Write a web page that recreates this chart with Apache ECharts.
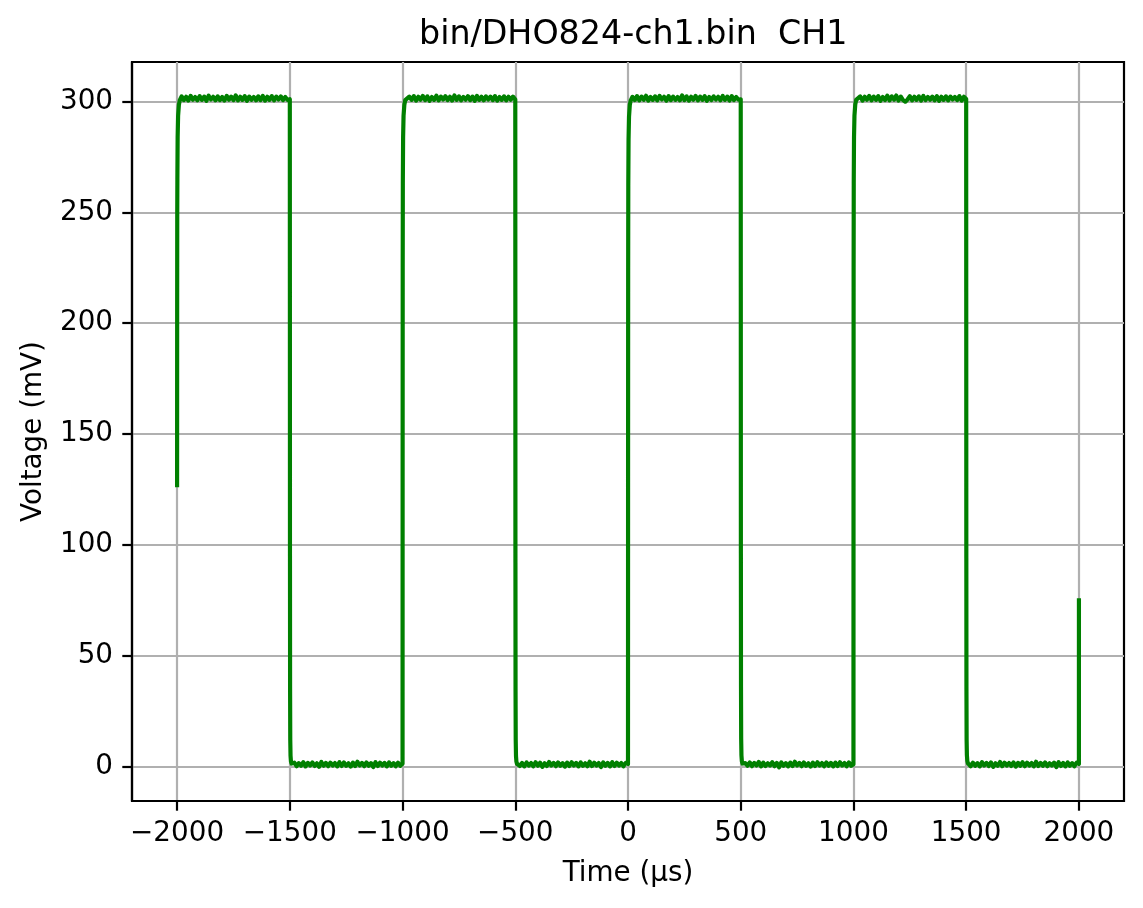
<!DOCTYPE html>
<html>
<head>
<meta charset="utf-8">
<script src="https://cdn.jsdelivr.net/npm/echarts@6/dist/echarts.min.js"></script>
<style>
  html, body { margin: 0; padding: 0; background: #fff; }
  #chart { width: 1143px; height: 908px; }
</style>
</head>
<body>
<div id="chart"></div>
<script>
// ---- Data (time in µs, voltage in mV) ----
const chartTitle = 'bin/DHO824-ch1.bin  CH1';
const xTicks = [-2000, -1500, -1000, -500, 0, 500, 1000, 1500, 2000];
const yTicks = [0, 50, 100, 150, 200, 250, 300];
const sampleStep = 10; // µs between plateau samples

// Edge samples [time, mV]
const edgeStart = [[-2000,127],[-1999.7,205],[-1999.3,250],[-1998.7,265],[-1997.5,284],[-1995.5,293.5],[-1992,298.5],[-1988,300.6],[-1984,301.4]];
const fall1 = [[-1504,301.6],[-1500,301.0],[-1499.7,215],[-1499.3,95],[-1498.8,35],[-1498,12],[-1496.8,5],[-1495,2.4],[-1492.5,1.4],[-1490,1.0]];
const rise1 = [[-1004,1.0],[-1000,1.3],[-999.7,130],[-999.3,225],[-998.7,263],[-997.5,284],[-995.5,293.5],[-992,298.5],[-988,300.6],[-984,301.4]];
const fall2 = [[-504,301.5],[-500,300.9],[-499.7,212],[-499.3,92],[-498.8,34],[-498,12],[-496.8,4.8],[-495,2.3],[-492.5,1.3],[-490,1.0]];
const rise2 = [[-4,0.9],[0,1.2],[0.3,128],[0.7,222],[1.3,262],[2.5,283],[4.5,293],[8,298.4],[12,300.5],[16,301.3]];
const fall3 = [[496,301.4],[500,301.0],[500.3,216],[500.7,96],[501.2,36],[502,12.5],[503.2,5.1],[505,2.5],[507.5,1.4],[510,1.1]];
const rise3 = [[996,0.8],[1000,1.1],[1000.3,131],[1000.7,224],[1001.3,263],[1002.5,284],[1004.5,293.6],[1008,298.6],[1012,300.7],[1016,301.4]];
const fall4 = [[1496,301.6],[1500,301.1],[1500.3,214],[1500.7,94],[1501.2,35],[1502,12],[1503.2,5.2],[1505,2.6],[1507.5,1.5],[1510,1.1]];
const edgeEnd = [[1996,0.9],[2000,1.2],[2000.1,75]];

// Plateau samples (mV), first sample time given by *Start
const high1Start = -1980;
const high1 = [302.3,300.6,302.1,300.4,302.5,300.8,302.0,300.5,
               302.4,300.7,302.2,300.3,302.6,300.9,302.1,300.5,
               302.3,300.6,302.0,300.4,302.5,300.8,302.2,300.6,
               302.7,300.5,302.1,300.7,302.4,300.3,302.2,300.8,
               302.0,300.5,302.3,300.6,302.5,300.4,302.1,300.7,
               302.4,300.5,302.2,300.9,302.3,300.6,302.0,300.7];
const low1Start = -1480;
const low1 = [1.8,0.2,1.6,0.4,2.0,0.1,1.7,0.5,
              1.9,0.3,1.5,-0.1,2.1,0.4,1.7,0.2,
              1.8,0.5,1.6,0.1,2.0,0.3,1.9,0.4,
              1.5,0.0,1.8,0.3,2.2,0.5,1.7,0.2,
              1.9,0.4,1.6,-0.2,2.0,0.3,1.8,0.5,
              1.7,0.1,1.9,0.4,1.6,0.2,1.8,0.4];
const high2Start = -980;
const high2 = [300.5,302.2,300.7,302.4,300.4,302.1,300.8,302.5,
               300.6,302.3,300.3,302.0,300.7,302.6,300.5,302.2,
               300.9,302.4,300.6,302.1,300.4,302.7,300.7,302.3,
               300.5,302.0,300.8,302.4,300.6,302.2,300.3,302.5,
               300.7,302.1,300.5,302.3,300.9,302.2,300.6,302.4,
               300.4,302.0,300.7,302.3,300.5,302.1,300.8,302.2];
const low2Start = -480;
const low2 = [0.3,1.7,0.1,1.9,0.5,1.6,0.2,2.0,
              0.4,1.8,-0.1,1.5,0.3,2.1,0.5,1.7,
              0.2,1.9,0.4,1.6,0.0,1.8,0.3,2.0,
              0.5,1.7,0.1,1.9,0.4,1.5,0.2,2.2,
              0.3,1.8,0.5,1.6,-0.2,1.9,0.4,1.7,
              0.1,2.0,0.3,1.8,0.5,1.6,0.2,1.7];
const high3Start = 20;
const high3 = [302.1,300.6,302.4,300.5,302.2,300.8,302.6,300.4,
               302.0,300.7,302.3,300.5,302.5,300.9,302.1,300.3,
               302.4,300.6,302.2,300.7,302.0,300.5,302.7,300.6,
               302.3,300.4,302.1,300.8,302.5,300.5,302.2,300.7,
               302.4,300.3,302.0,300.6,302.3,300.9,302.1,300.5,
               302.5,300.7,302.2,300.4,302.4,300.6,302.0,300.8];
const low3Start = 520;
const low3 = [1.6,0.4,1.9,0.2,1.7,0.5,2.1,0.1,
              1.8,0.3,1.5,0.5,2.0,0.2,1.7,-0.3,
              1.9,0.4,1.6,0.1,1.8,0.3,2.2,0.5,
              1.7,0.2,1.9,0.4,1.5,0.0,1.8,0.3,
              2.0,0.5,1.6,0.2,1.9,0.4,1.7,0.1,
              1.8,0.3,2.0,0.5,1.6,0.2,1.9,0.4];
const high4Start = 1020;
const high4 = [300.6,302.3,300.4,302.1,300.8,302.5,300.5,302.2,
               300.7,302.4,300.3,302.0,300.6,302.6,300.5,302.3,
               300.8,302.7,300.4,302.2,300.6,299.9,300.9,302.4,
               300.5,302.1,300.7,302.3,300.4,302.5,300.6,302.0,
               300.8,302.2,300.5,302.4,300.3,302.1,300.7,302.3,
               300.5,302.2,300.9,302.0,300.6,302.4,300.4,302.1];
const low4Start = 1520;
const low4 = [0.2,1.8,0.4,1.6,0.1,2.0,0.5,1.7,
              0.3,1.9,-0.1,1.5,0.4,2.1,0.2,1.8,
              0.5,1.6,0.3,1.9,0.0,1.7,0.4,2.0,
              0.2,1.8,0.5,1.6,0.1,2.2,0.3,1.7,
              0.4,1.9,0.2,1.5,0.5,1.8,-0.2,2.0,
              0.3,1.7,0.1,1.9,0.4,1.6,0.2,1.8];

function plateau(startT, vals) {
  return vals.map(function (v, i) { return [startT + i * sampleStep, v]; });
}

const seriesData = [].concat(
  edgeStart, plateau(high1Start, high1),
  fall1, plateau(low1Start, low1),
  rise1, plateau(high2Start, high2),
  fall2, plateau(low2Start, low2),
  rise2, plateau(high3Start, high3),
  fall3, plateau(low3Start, low3),
  rise3, plateau(high4Start, high4),
  fall4, plateau(low4Start, low4),
  edgeEnd
);

const FONT = 'DejaVu Sans';
const fmtMinus = function (v) { return v < 0 ? '\u2212' + Math.abs(v) : String(v); };

const chart = echarts.init(document.getElementById('chart'), null, { renderer: 'canvas' });
chart.setOption({
  animation: false,
  backgroundColor: '#ffffff',
  title: {
    text: chartTitle,
    left: 414,
    top: 14,
    textStyle: { fontFamily: FONT, fontSize: 33.3, fontWeight: 'normal', color: '#000' }
  },
  grid: {
    left: 132, right: 19, top: 62, bottom: 107,
    show: true, borderColor: '#000', borderWidth: 2.2, backgroundColor: 'transparent'
  },
  xAxis: {
    type: 'value',
    min: -2200, max: 2200,
    name: 'Time (µs)',
    nameLocation: 'middle',
    nameGap: 59,
    nameTextStyle: { fontFamily: FONT, fontSize: 27.8, color: '#000' },
    axisLine: { show: true, onZero: false, lineStyle: { color: '#000', width: 2.2 } },
    axisTick: { show: true, inside: false, length: 9.7, customValues: xTicks, lineStyle: { color: '#000', width: 2.2 } },
    axisLabel: { customValues: xTicks, margin: 19, fontFamily: FONT, fontSize: 27.8, color: '#000', formatter: fmtMinus },
    splitLine: { show: true, lineStyle: { color: '#b0b0b0', width: 2.2 } }
  },
  yAxis: {
    type: 'value',
    min: -15.5, max: 317.8,
    name: 'Voltage (mV)',
    nameLocation: 'middle',
    nameGap: 84,
    nameTextStyle: { fontFamily: FONT, fontSize: 27.8, color: '#000' },
    axisLine: { show: true, onZero: false, lineStyle: { color: '#000', width: 2.2 } },
    axisTick: { show: true, inside: false, length: 9.7, customValues: yTicks, lineStyle: { color: '#000', width: 2.2 } },
    axisLabel: { customValues: yTicks, margin: 19, fontFamily: FONT, fontSize: 27.8, color: '#000', formatter: fmtMinus },
    splitLine: { show: true, lineStyle: { color: '#b0b0b0', width: 2.2 } }
  },
  series: [{
    type: 'line',
    data: seriesData,
    showSymbol: false,
    symbol: 'none',
    sampling: null,
    lineStyle: { color: '#008000', width: 4.17, cap: 'square', join: 'round' },
    z: 3
  }]
});
</script>
</body>
</html>
